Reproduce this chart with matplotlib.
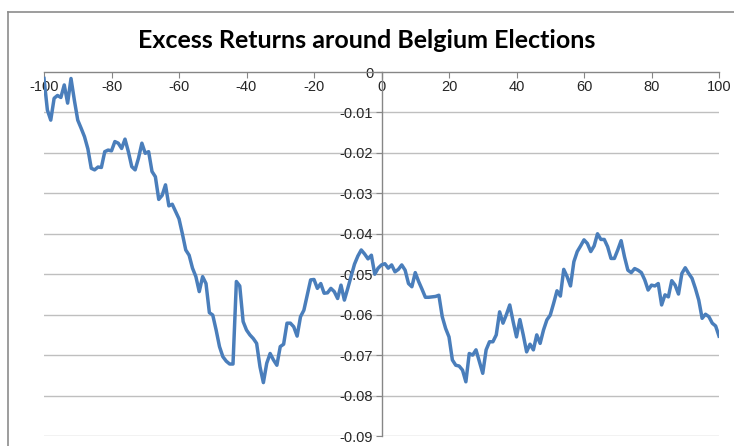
import numpy as np
import matplotlib
matplotlib.use('Agg')
import matplotlib.pyplot as plt
from matplotlib.lines import Line2D

# giorni attorno alle elezioni
days = np.arange(-100, 101)

# rendimenti in eccesso cumulati
excess = [
    -0.0016, -0.0094, -0.0119, -0.0065, -0.0058, -0.0063, -0.0032, -0.0077, -0.0016, -0.0070,
    -0.0119, -0.0139, -0.0160, -0.0190, -0.0238, -0.0242, -0.0235, -0.0236, -0.0197, -0.0193,
    -0.0195, -0.0172, -0.0176, -0.0189, -0.0166, -0.0197, -0.0234, -0.0242, -0.0213, -0.0176,
    -0.0201, -0.0197, -0.0246, -0.0259, -0.0315, -0.0305, -0.0279, -0.0331, -0.0327, -0.0345,
    -0.0363, -0.0400, -0.0440, -0.0453, -0.0485, -0.0506, -0.0543, -0.0506, -0.0523, -0.0595,
    -0.0601, -0.0638, -0.0679, -0.0704, -0.0715, -0.0722, -0.0722, -0.0518, -0.0529, -0.0617,
    -0.0638, -0.0650, -0.0659, -0.0671, -0.0729, -0.0768, -0.0720, -0.0696, -0.0712, -0.0725,
    -0.0679, -0.0673, -0.0621, -0.0621, -0.0630, -0.0653, -0.0605, -0.0589, -0.0551, -0.0514,
    -0.0513, -0.0535, -0.0523, -0.0547, -0.0546, -0.0535, -0.0543, -0.0560, -0.0527, -0.0564,
    -0.0535, -0.0505, -0.0475, -0.0455, -0.0440, -0.0450, -0.0462, -0.0453, -0.0500, -0.0485,
    -0.0477, -0.0474, -0.0485, -0.0477, -0.0494, -0.0488, -0.0477, -0.0490, -0.0523, -0.0531,
    -0.0496, -0.0518, -0.0537, -0.0557, -0.0557, -0.0556, -0.0555, -0.0552, -0.0605, -0.0634,
    -0.0655, -0.0712, -0.0725, -0.0727, -0.0737, -0.0766, -0.0696, -0.0700, -0.0687, -0.0716,
    -0.0745, -0.0687, -0.0667, -0.0667, -0.0650, -0.0593, -0.0621, -0.0600, -0.0576, -0.0617,
    -0.0655, -0.0612, -0.0650, -0.0692, -0.0673, -0.0687, -0.0650, -0.0671, -0.0638, -0.0613,
    -0.0601, -0.0572, -0.0541, -0.0554, -0.0488, -0.0506, -0.0529, -0.0469, -0.0444, -0.0430,
    -0.0415, -0.0424, -0.0444, -0.0430, -0.0400, -0.0414, -0.0414, -0.0432, -0.0461, -0.0461,
    -0.0440, -0.0417, -0.0457, -0.0490, -0.0496, -0.0486, -0.0490, -0.0496, -0.0514, -0.0539,
    -0.0527, -0.0529, -0.0523, -0.0576, -0.0551, -0.0556, -0.0516, -0.0527, -0.0549, -0.0498,
    -0.0484, -0.0498, -0.0510, -0.0535, -0.0564, -0.0609, -0.0599, -0.0605, -0.0621, -0.0628,
    -0.0653,
]

x_ticks = [-100, -80, -60, -40, -20, 0, 20, 40, 60, 80, 100]
y_ticks = [0, -0.01, -0.02, -0.03, -0.04, -0.05, -0.06, -0.07, -0.08, -0.09]
y_labels = ['0', '-0.01', '-0.02', '-0.03', '-0.04', '-0.05', '-0.06', '-0.07', '-0.08', '-0.09']

plt.rcParams['font.family'] = ['Liberation Sans', 'DejaVu Sans']

fig = plt.figure(figsize=(7.34, 4.46), dpi=100)
ax = fig.add_axes([44 / 734, 1 - 436 / 446, 675 / 734, 364 / 446])

# bordo dell'area grafico (tagliato a destra e in basso)
fig.add_artist(Line2D([8 / 734, 8 / 734], [0, 1 - 12 / 446], transform=fig.transFigure,
                      color='#8c8c8c', lw=1.2))
fig.add_artist(Line2D([8 / 734, 1], [1 - 12 / 446, 1 - 12 / 446], transform=fig.transFigure,
                      color='#8c8c8c', lw=1.2))

ax.plot(days, excess, color='#4a7ebb', lw=2.5, solid_joinstyle='round', zorder=3)

ax.set_xlim(-100, 100)
ax.set_ylim(-0.09, 0)

for y in y_ticks[1:]:
    ax.axhline(y, color='#bfbfbf', lw=1.0, zorder=1)

ax.spines['right'].set_visible(False)
ax.spines['top'].set_visible(False)
ax.spines['left'].set_position(('data', 0))
ax.spines['bottom'].set_position(('data', 0))
for s in ['left', 'bottom']:
    ax.spines[s].set_color('#868686')
    ax.spines[s].set_linewidth(1.0)

ax.set_xticks(x_ticks)
ax.set_xticklabels([str(v) for v in x_ticks])
ax.set_yticks(y_ticks)
ax.set_yticklabels(y_labels)
ax.tick_params(axis='both', direction='out', length=4, color='#868686',
               labelsize=10.5, labelcolor='#262626', pad=2)

fig.text(0.5, 1 - 40 / 446, 'Excess Returns around Belgium Elections',
         ha='center', va='center', fontsize=18, fontweight='bold', family='Lato')

plt.savefig('out.png', dpi=100)
